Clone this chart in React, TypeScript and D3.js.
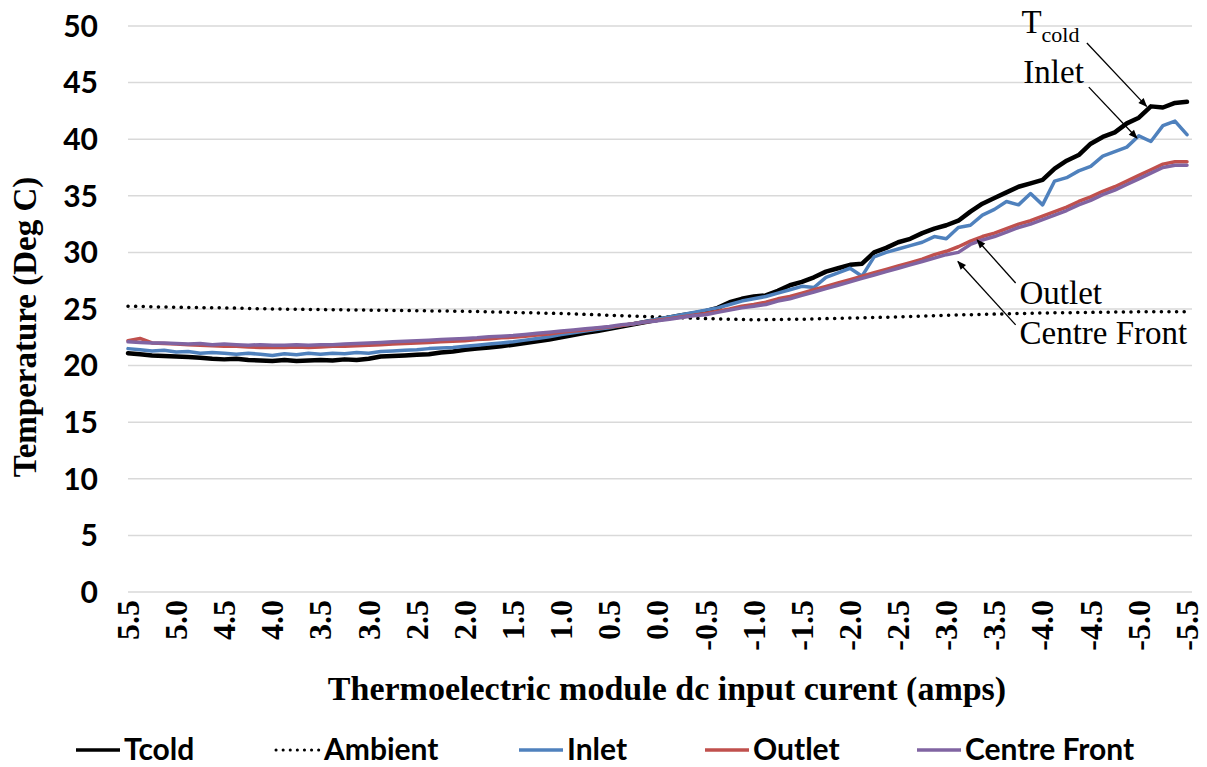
import React from 'react';
import * as d3 from 'd3';

// sample positions (amps), left to right as on the chart
const current = [
  5.5, 5.375, 5.25, 5.125, 5.0, 4.875, 4.75, 4.625, 4.5, 4.375, 4.25, 4.125, 4.0, 3.875, 3.75, 3.625,
  3.5, 3.375, 3.25, 3.125, 3.0, 2.875, 2.75, 2.625, 2.5, 2.375, 2.25, 2.125, 2.0, 1.875, 1.75, 1.625,
  1.5, 1.375, 1.25, 1.125, 1.0, 0.875, 0.75, 0.625, 0.5, 0.375, 0.25, 0.125, 0.0, -0.125, -0.25, -0.375,
  -0.5, -0.625, -0.75, -0.875, -1.0, -1.125, -1.25, -1.375, -1.5, -1.625, -1.75, -1.875, -2.0, -2.125,
  -2.25, -2.375, -2.5, -2.625, -2.75, -2.875, -3.0, -3.125, -3.25, -3.375, -3.5, -3.625, -3.75, -3.875,
  -4.0, -4.125, -4.25, -4.375, -4.5, -4.625, -4.75, -4.875, -5.0, -5.125, -5.25, -5.375, -5.5,
];

const tcold = [
  21.1, 21.0, 20.9, 20.85, 20.8, 20.75, 20.7, 20.6, 20.55, 20.6, 20.5, 20.45, 20.4, 20.5, 20.4, 20.45,
  20.5, 20.45, 20.55, 20.5, 20.6, 20.8, 20.85, 20.9, 20.95, 21.0, 21.15, 21.25, 21.4, 21.5, 21.6, 21.7,
  21.85, 22.0, 22.15, 22.3, 22.5, 22.7, 22.9, 23.05, 23.25, 23.45, 23.65, 23.85, 24.05, 24.25, 24.45, 24.6,
  24.8, 25.1, 25.6, 25.9, 26.1, 26.2, 26.6, 27.1, 27.4, 27.8, 28.3, 28.6, 28.9, 29.0,
  30.0, 30.4, 30.9, 31.2, 31.7, 32.1, 32.4, 32.8, 33.6, 34.3, 34.8, 35.3, 35.8, 36.1,
  36.4, 37.4, 38.1, 38.6, 39.6, 40.2, 40.6, 41.4, 41.9, 42.9, 42.8, 43.2, 43.3,
];

const inlet = [
  21.5, 21.4, 21.3, 21.35, 21.2, 21.25, 21.1, 21.15, 21.1, 21.0, 21.1, 21.0, 20.9, 21.05, 20.95, 21.1,
  21.0, 21.1, 21.05, 21.15, 21.1, 21.25, 21.3, 21.35, 21.4, 21.5, 21.55, 21.6, 21.7, 21.8, 21.9, 22.0,
  22.1, 22.25, 22.4, 22.55, 22.75, 22.9, 23.05, 23.2, 23.35, 23.55, 23.7, 23.9, 24.1, 24.3, 24.5, 24.7,
  24.9, 25.1, 25.4, 25.7, 25.9, 26.1, 26.4, 26.7, 27.0, 26.9, 27.8, 28.2, 28.6, 27.9,
  29.6, 30.0, 30.3, 30.6, 30.9, 31.4, 31.2, 32.2, 32.4, 33.3, 33.8, 34.5, 34.2, 35.2,
  34.2, 36.3, 36.6, 37.2, 37.6, 38.5, 38.9, 39.3, 40.3, 39.8, 41.2, 41.6, 40.4,
];

const outlet = [
  22.2, 22.4, 22.0, 21.95, 21.9, 21.85, 21.8, 21.75, 21.7, 21.7, 21.65, 21.6, 21.6, 21.6, 21.65, 21.6,
  21.65, 21.7, 21.7, 21.75, 21.8, 21.85, 21.9, 21.95, 22.0, 22.05, 22.1, 22.15, 22.2, 22.3, 22.35, 22.45,
  22.5, 22.6, 22.7, 22.8, 22.95, 23.05, 23.15, 23.3, 23.4, 23.55, 23.7, 23.85, 24.0, 24.15, 24.3, 24.45,
  24.6, 24.8, 25.0, 25.25, 25.4, 25.6, 25.9, 26.1, 26.4, 26.7, 27.0, 27.3, 27.6, 27.9,
  28.2, 28.5, 28.8, 29.1, 29.4, 29.8, 30.1, 30.5, 31.0, 31.4, 31.7, 32.1, 32.5, 32.8,
  33.2, 33.6, 34.0, 34.5, 34.9, 35.4, 35.8, 36.3, 36.8, 37.3, 37.8, 38.0, 38.0,
];

const centreFront = [
  22.1, 22.05, 22.0, 22.0, 21.95, 21.9, 21.95, 21.85, 21.9, 21.85, 21.8, 21.85, 21.8, 21.8, 21.85, 21.8,
  21.85, 21.85, 21.9, 21.95, 22.0, 22.05, 22.1, 22.15, 22.2, 22.25, 22.3, 22.35, 22.4, 22.45, 22.55, 22.6,
  22.65, 22.75, 22.85, 22.95, 23.05, 23.15, 23.25, 23.35, 23.45, 23.6, 23.7, 23.85, 23.95, 24.1, 24.25, 24.4,
  24.5, 24.7, 24.9, 25.1, 25.25, 25.4, 25.7, 25.9, 26.2, 26.5, 26.8, 27.1, 27.4, 27.7,
  28.0, 28.3, 28.6, 28.9, 29.2, 29.5, 29.8, 30.0, 30.7, 31.1, 31.4, 31.8, 32.2, 32.5,
  32.9, 33.3, 33.7, 34.2, 34.6, 35.1, 35.5, 36.0, 36.5, 37.0, 37.5, 37.7, 37.7,
];

const ambientCurrent = [
  5.5, 5.0, 4.5, 4.0, 3.5, 3.0, 2.5, 2.0, 1.5, 1.0, 0.5, 0.0,
  -0.5, -1.0, -1.5, -2.0, -2.5, -3.0, -3.5, -4.0, -4.5, -5.0, -5.5,
];
const ambient = [
  25.25, 25.15, 25.1, 25.0, 24.95, 24.9, 24.85, 24.8, 24.7, 24.6, 24.45, 24.3,
  24.15, 24.05, 24.1, 24.2, 24.3, 24.45, 24.55, 24.65, 24.7, 24.75, 24.75,
];

const xTicks = [
  5.5, 5.0, 4.5, 4.0, 3.5, 3.0, 2.5, 2.0, 1.5, 1.0, 0.5, 0.0,
  -0.5, -1.0, -1.5, -2.0, -2.5, -3.0, -3.5, -4.0, -4.5, -5.0, -5.5,
];
const yTicks = [0, 5, 10, 15, 20, 25, 30, 35, 40, 45, 50];

const W = 1207;
const H = 767;

const x = d3.scaleLinear().domain([5.5, -5.5]).range([128, 1187]);
const y = d3.scaleLinear().domain([0, 50]).range([592, 26]);

const sans = 'Lato, "Open Sans", sans-serif';
const serif = '"Liberation Serif", "Times New Roman", serif';

type Series = { name: string; xs: number[]; ys: number[]; color: string; width: number; dotted?: boolean };

const series: Series[] = [
  { name: 'Ambient', xs: ambientCurrent, ys: ambient, color: '#000000', width: 3.5, dotted: true },
  { name: 'Tcold', xs: current, ys: tcold, color: '#000000', width: 4.5 },
  { name: 'Inlet', xs: current, ys: inlet, color: '#4f81bd', width: 3.5 },
  { name: 'Outlet', xs: current, ys: outlet, color: '#c0504d', width: 3.5 },
  { name: 'Centre Front', xs: current, ys: centreFront, color: '#8064a2', width: 3.5 },
];

// legend order as in the picture
const legendItems = ['Tcold', 'Ambient', 'Inlet', 'Outlet', 'Centre Front'];
const legendX = [76, 276, 519, 705, 917];

// callout labels: text anchor point and arrow (from -> to) in data units
const callouts = [
  { label: 'T', sub: 'cold', at: [-3.78, 49.4], from: [-4.46, 48.5], to: [-5.08, 42.9] },
  { label: 'Inlet', at: [-3.8, 45.0], from: [-4.48, 44.6], to: [-4.98, 40.1] },
  { label: 'Outlet', at: [-3.76, 25.4], from: [-3.72, 27.3], to: [-3.32, 31.1] },
  { label: 'Centre Front', at: [-3.76, 21.9], from: [-3.72, 23.6], to: [-3.12, 29.2] },
];

export default function App() {
  const pathFor = (s: Series) =>
    d3
      .line<number>()
      .x((_, i) => x(s.xs[i]))
      .y(d => y(d))
      .curve(d3.curveLinear)(s.ys) || '';

  return (
    <svg width={W} height={H} style={{ position: 'absolute', left: 0, top: 0, background: '#fff' }}>
      <defs>
        <marker id="arrow" viewBox="0 0 10 10" refX="9" refY="5" markerWidth="10" markerHeight="9" markerUnits="userSpaceOnUse" orient="auto">
          <path d="M0,1 L10,5 L0,9 Z" fill="#000" />
        </marker>
      </defs>

      {/* gridlines */}
      {yTicks.map(t => (
        <line key={t} x1={x(5.5)} x2={x(-5.5) + 5} y1={y(t)} y2={y(t)} stroke="#d9d9d9" strokeWidth={1.5} />
      ))}

      {/* y tick labels */}
      {yTicks.map(t => (
        <text key={t} x={98} y={y(t)} dy="0.36em" textAnchor="end" fontFamily={sans} fontWeight={700} fontSize={30}>
          {t}
        </text>
      ))}

      {/* x tick labels, rotated */}
      {xTicks.map(t => (
        <text
          key={t}
          transform={`translate(${x(t)},${600}) rotate(-90)`}
          dy="0.34em"
          textAnchor="end"
          fontFamily={serif}
          fontWeight={700}
          fontSize={32}
        >
          {t.toFixed(1)}
        </text>
      ))}

      {/* axis titles */}
      <text x={667} y={700} textAnchor="middle" fontFamily={serif} fontWeight={700} fontSize={34}>
        Thermoelectric module dc input curent (amps)
      </text>
      <text transform={`translate(36,327) rotate(-90)`} textAnchor="middle" fontFamily={serif} fontWeight={700} fontSize={33}>
        Temperature (Deg C)
      </text>

      {/* series */}
      {series.map(s => (
        <path
          key={s.name}
          d={pathFor(s)}
          fill="none"
          stroke={s.color}
          strokeWidth={s.width}
          strokeLinejoin="round"
          strokeLinecap="round"
          strokeDasharray={s.dotted ? '0.1 7.5' : undefined}
        />
      ))}

      {/* callouts */}
      {callouts.map(c => (
        <g key={c.label}>
          <line
            x1={x(c.from[0])}
            y1={y(c.from[1])}
            x2={x(c.to[0])}
            y2={y(c.to[1])}
            stroke="#000"
            strokeWidth={1.3}
            markerEnd="url(#arrow)"
          />
          <text x={x(c.at[0])} y={y(c.at[1])} fontFamily={serif} fontSize={33}>
            {c.label}
            {c.sub && (
              <tspan fontSize={22} dy={9}>
                {c.sub}
              </tspan>
            )}
          </text>
        </g>
      ))}

      {/* legend */}
      {legendItems.map((name, i) => {
        const s = series.find(d => d.name === name)!;
        const lx = legendX[i];
        return (
          <g key={name}>
            <line
              x1={lx}
              x2={lx + 44}
              y1={750}
              y2={750}
              stroke={s.color}
              strokeWidth={s.dotted ? 3 : 3.5}
              strokeLinecap={s.dotted ? 'round' : 'butt'}
              strokeDasharray={s.dotted ? '0.1 7' : undefined}
            />
            <text x={lx + 48} y={760} fontFamily={sans} fontWeight={700} fontSize={30}>
              {name}
            </text>
          </g>
        );
      })}
    </svg>
  );
}
